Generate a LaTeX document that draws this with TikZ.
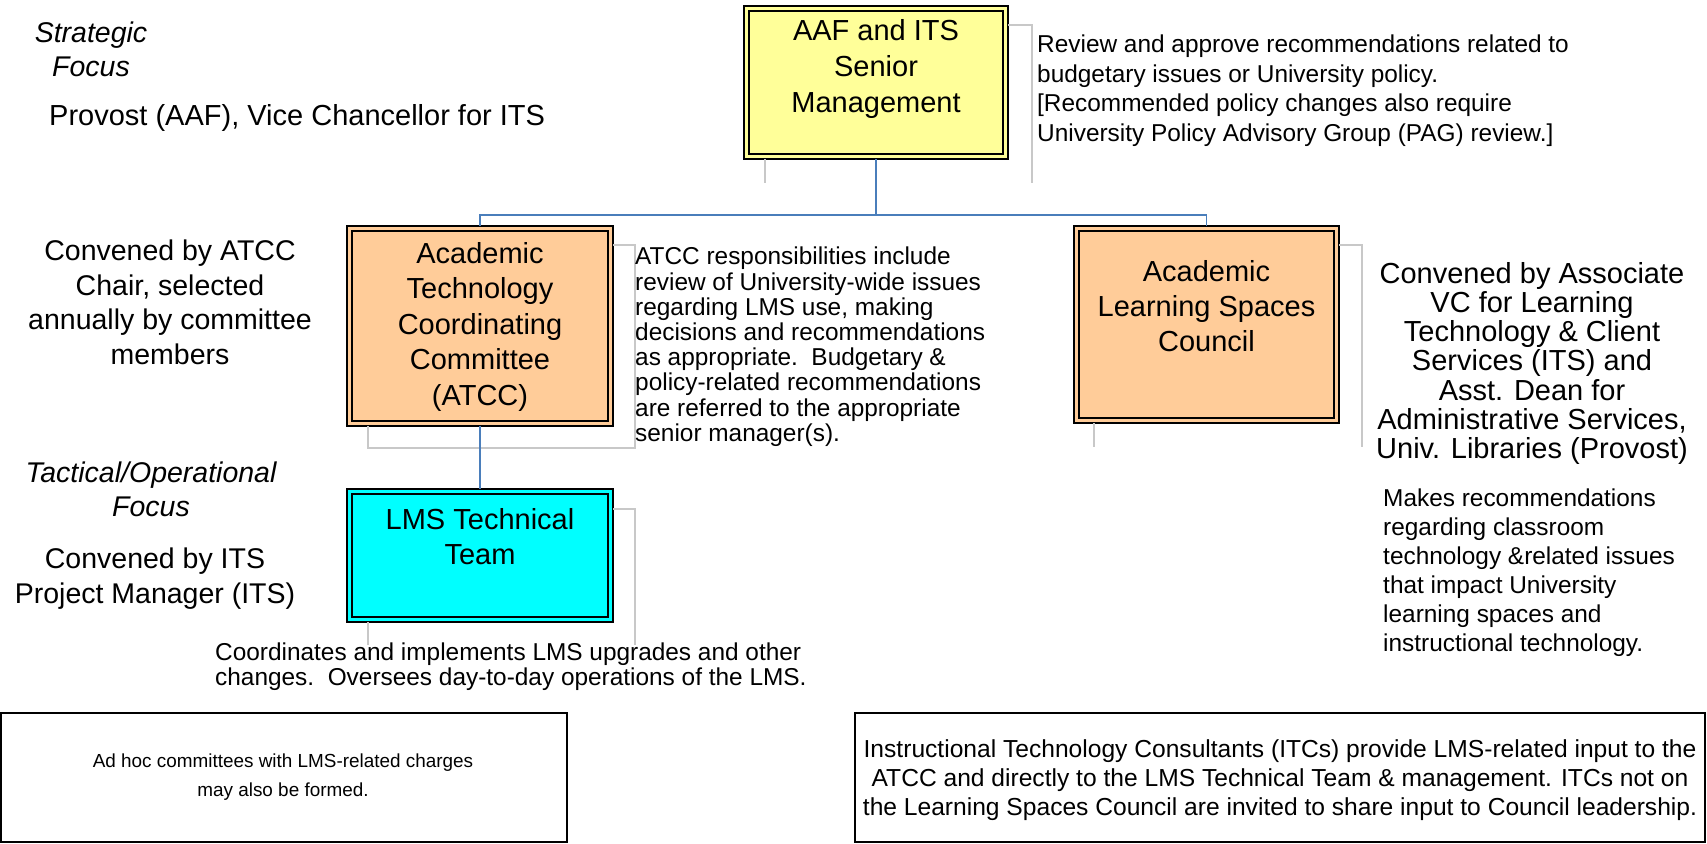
\documentclass[tikz,border=0pt]{standalone}
\usepackage{fontspec}
\setmainfont{Liberation Sans}
\definecolor{yelfill}{HTML}{FFFF99}
\definecolor{orafill}{HTML}{FFCC99}
\definecolor{cyafill}{HTML}{00FFFF}
\definecolor{linkblue}{HTML}{4A7EBB}
\definecolor{shadegray}{HTML}{C8C8C8}
\begin{document}
\begin{tikzpicture}[x=1pt,y=-1pt,
  orgbox/.style={draw=black, line width=2.4pt, inner sep=0pt, outer sep=0pt},
  innerframe/.style={draw=black, line width=1.2pt},
  shadeline/.style={draw=shadegray, line width=1.3pt},
  link/.style={draw=linkblue, line width=1.5pt},
  boxtext/.style={anchor=north, align=center, inner sep=0pt, font=\fontsize{29}{35}\selectfont},
  sidetext/.style={anchor=north, align=center, inner sep=0pt, font=\fontsize{28.5}{34.5}\selectfont},
  focustext/.style={anchor=north, align=center, inner sep=0pt, font=\fontsize{28.5}{34}\selectfont\itshape},
  desc/.style={anchor=north west, align=left, inner sep=0pt, font=\fontsize{24.4}{29.5}\selectfont},
  notebox/.style={draw=black, line width=1.3pt, inner sep=0pt, outer sep=0pt},
  notetext/.style={anchor=north, align=center, inner sep=0pt}
]
\useasboundingbox (0,0) rectangle (1707,843);

\node[orgbox, fill=yelfill, minimum width=264pt, minimum height=153pt] (top) at (876,82.5) {};
\node[orgbox, fill=orafill, minimum width=266pt, minimum height=200pt] (atcc) at (480,326) {};
\node[orgbox, fill=orafill, minimum width=265pt, minimum height=197pt] (alsc) at (1206.5,324.5) {};
\node[orgbox, fill=cyafill, minimum width=266pt, minimum height=133pt] (lms) at (480,555.5) {};

% grey frame lines
\draw[shadeline] ([yshift=-19pt]top.north east) -- ++(24,0) -- ++(0,158);
\draw[shadeline] ([xshift=21pt]top.south west) -- ++(0,24);
\draw[shadeline] ([yshift=-19pt]atcc.north east) -- ++(22,0) -- ++(0,203) -- ++(-267,0) -- ++(0,-22);
\draw[shadeline] ([yshift=-19pt]alsc.north east) -- ++(23,0) -- ++(0,202);
\draw[shadeline] ([xshift=20pt]alsc.south west) -- ++(0,24);
\draw[shadeline] ([yshift=-20pt]lms.north east) -- ++(22,0) -- ++(0,136);
\draw[shadeline] ([xshift=21pt]lms.south west) -- ++(0,23);

\foreach \n in {top,atcc,alsc,lms}
  \draw[innerframe] ([xshift=5pt,yshift=-5pt]\n.north west) rectangle ([xshift=-5pt,yshift=5pt]\n.south east);

% connectors
\path (top.south) ++(0,56) coordinate (bus);
\draw[link] (top.south) -- (bus);
\draw[link] (atcc.north) |- (bus) -| (alsc.north);
\draw[link] (atcc.south) -- (lms.north);

% box texts
\node[boxtext, font=\fontsize{29}{36}\selectfont] (toptxt) at (876,19) {AAF and ITS\\Senior\\Management};
\node[boxtext, font=\fontsize{29}{35.5}\selectfont] (atcctxt) at (480,242) {Academic\\Technology\\Coordinating\\Committee\\(ATCC)};
\node[boxtext] (alsctxt) at (1206.5,260) {Academic\\Learning Spaces\\Council};
\node[boxtext] (lmstxt) at (480,508) {LMS Technical\\Team};

% left column
\node[focustext] (strat) at (91,22) {Strategic\\Focus};
\node[anchor=north west, inner sep=0pt, font=\fontsize{29}{35}\selectfont] (provost) at (49,104) {Provost (AAF), Vice Chancellor for ITS};
\node[sidetext] (convatcc) at (170,240) {Convened by ATCC\\Chair, selected\\annually by committee\\members};
\node[focustext] (tact) at (151,462) {Tactical/Operational\\Focus};
\node[sidetext] (convits) at (155,548) {Convened by ITS\\Project Manager (ITS)};

% descriptions
\node[desc] (topdesc) at (1037,35) {Review and approve recommendations related to\\budgetary issues or University policy.\\{[}Recommended policy changes also require\\University Policy Advisory Group (PAG) review.]};
\node[desc, font=\fontsize{24.4}{25.2}\selectfont] (atccdesc) at (635,247) {ATCC responsibilities include\\review of University-wide issues\\regarding LMS use, making\\decisions and recommendations\\as appropriate.\ \ Budgetary \&\\policy-related recommendations\\are referred to the appropriate\\senior manager(s).};
\node[desc, font=\fontsize{24.4}{25}\selectfont] (lmsdesc) at (215,643) {Coordinates and implements LMS upgrades and other\\changes.\ \ Oversees day-to-day operations of the LMS.};
\node[anchor=north, align=center, inner sep=0pt, font=\fontsize{29}{29.2}\selectfont] (convalsc) at (1532,262) {Convened by Associate\\VC for Learning\\Technology \& Client\\Services (ITS) and\\Asst. Dean for\\Administrative Services,\\Univ. Libraries (Provost)};
\node[desc, font=\fontsize{24.4}{29}\selectfont] (alscdesc) at (1383,489) {Makes recommendations\\regarding classroom\\technology \&related issues\\that impact University\\learning spaces and\\instructional technology.};

% bottom note boxes
\node[notebox, minimum width=566pt, minimum height=129pt] (adhoc) at (284,777.5) {};
\node[notetext, font=\fontsize{18.9}{28.5}\selectfont] (adhoctxt) at (283,754) {Ad hoc committees with LMS-related charges\\may also be formed.};
\node[notebox, minimum width=850pt, minimum height=129pt] (itc) at (1280,777.5) {};
\node[notetext, font=\fontsize{24.6}{29.4}\selectfont] (itctxt) at (1280,739) {Instructional Technology Consultants (ITCs) provide LMS-related input to the\\ATCC and directly to the LMS Technical Team \& management. ITCs not on\\the Learning Spaces Council are invited to share input to Council leadership.};
\end{tikzpicture}
\end{document}
